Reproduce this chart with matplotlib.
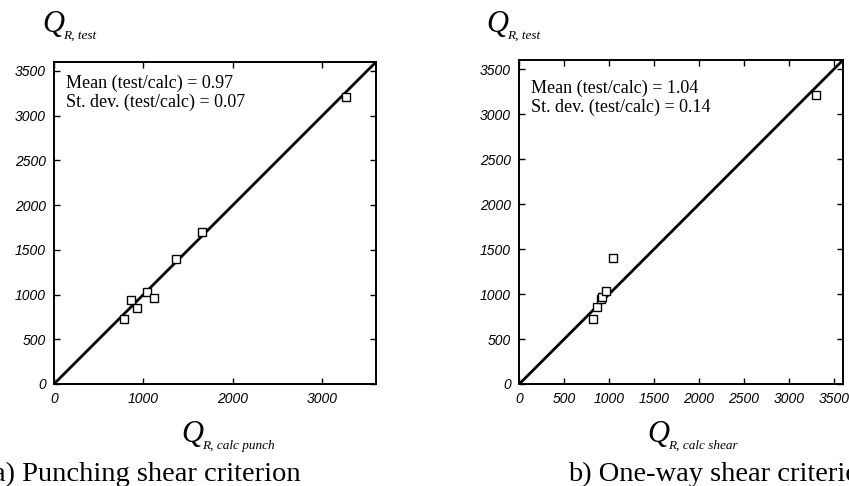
import matplotlib.pyplot as plt

# datos
punch_calc = [780, 860, 930, 1040, 1115, 1365, 1650, 3260]
punch_test = [725, 940, 855, 1025, 965, 1400, 1700, 3210]
shear_calc = [820, 865, 905, 920, 965, 1040, 3305]
shear_test = [725, 860, 940, 965, 1030, 1400, 3210]
linea_ref = [0, 3600]
ticks_y = [0, 500, 1000, 1500, 2000, 2500, 3000, 3500]
ticks_x_a = [0, 1000, 2000, 3000]
ticks_x_b = [0, 500, 1000, 1500, 2000, 2500, 3000, 3500]
texto_a = ["Mean (test/calc) = 0.97", "St. dev. (test/calc) = 0.07"]
texto_b = ["Mean (test/calc) = 1.04", "St. dev. (test/calc) = 0.14"]

W, H = 849, 486
fig = plt.figure(figsize=(W / 100, H / 100), dpi=100)

serif = "Liberation Serif"
sans = "Liberation Sans"


def px(x, y):
    return x / W, 1 - y / H


def panel(rect, xs, ys, xticks, textos, txt_y):
    ax = fig.add_axes(rect)
    ax.plot(linea_ref, linea_ref, color="black", lw=2.0, zorder=2)
    ax.plot(xs, ys, ls="none", marker="s", ms=6.0, mfc="white", mec="black",
            mew=1.0, zorder=3)
    ax.set_xlim(0, 3600)
    ax.set_ylim(0, 3600)
    ax.set_xticks(xticks)
    ax.set_yticks(ticks_y)
    ax.tick_params(direction="in", length=4, width=1, top=True, right=True,
                   labelsize=10, pad=6)
    for lab in ax.get_xticklabels() + ax.get_yticklabels():
        lab.set_fontfamily(sans)
        lab.set_fontstyle("italic")
    for s in ax.spines.values():
        s.set_linewidth(1.4)
    ax.text(0.037, txt_y, textos[0] + "\n" + textos[1], transform=ax.transAxes,
            family=serif, fontsize=13, va="top", linespacing=1.1)
    return ax


panel([0.0636, 0.2099, 0.3793, 0.6626], punch_calc, punch_test, ticks_x_a,
      texto_a, 0.96)
panel([0.6117, 0.2099, 0.3809, 0.6660], shear_calc, shear_test, ticks_x_b,
      texto_b, 0.94)


def etiqueta(x, y, sub):
    # Q grande en cursiva con subindice pequeño
    fig.text(*px(x, y), "Q", family=serif, style="italic", fontsize=22,
             ha="left", va="baseline")
    fig.text(*px(x + 21, y + 7), sub, family=serif, style="italic",
             fontsize=9.5, ha="left", va="baseline")


etiqueta(42, 32, "R, test")
etiqueta(486, 32, "R, test")
etiqueta(181, 442, "R, calc punch")
etiqueta(647, 442, "R, calc shear")

fig.text(*px(301, 481), "a) Punching shear criterion", family=serif,
         fontsize=20.5, ha="right", va="baseline")
fig.text(*px(568, 481), "b) One-way shear criterion", family=serif,
         fontsize=20.5, ha="left", va="baseline")

fig.savefig("out.png", dpi=100)
